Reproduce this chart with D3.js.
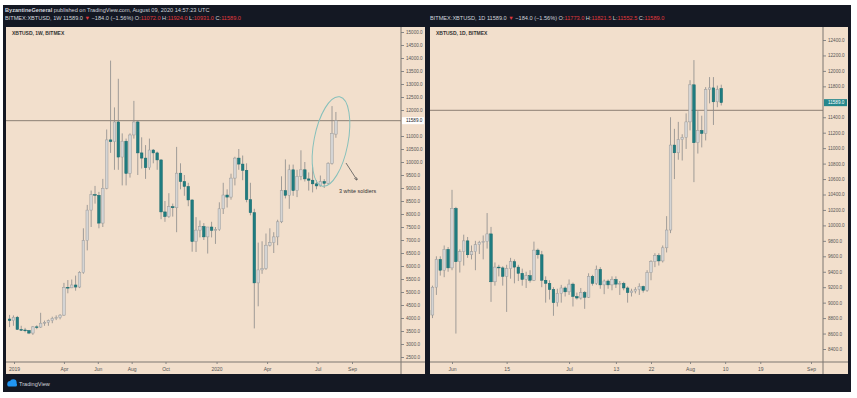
<!DOCTYPE html>
<html>
  <head>
    <script src="https://d3js.org/d3.v7.min.js"></script>
    <style>
      body { margin: 0; background: #fff; }
      text { font-family: "Liberation Sans", Arial, sans-serif; }
    </style>
  </head>
  <body>
    <script>

    // weekly candles, one per week starting Mon 2018-12-24
    var weekStart = Date.UTC(2018, 11, 24);
    var weekOpen = [3960,3900,4030,3560,3540,3520,3420,3660,3650,3800,3830,3900,3990,4010,4110,5180,5160,5270,5190,5750,
      6980,8150,8750,8720,7650,8990,10850,10780,11540,10190,10800,9560,11040,11540,10350,10150,9780,10460,10350,10080,
      8080,7900,8280,8240,9570,9250,9060,8540,6940,7380,7520,7120,7500,7370,7400,8200,8730,8650,9380,10150,
      9920,9680,8550,8050,5350,5850,5900,6800,6900,7120,7700,8900,8720,9700,8900,9450,9700,9350,9300,9160,
      9080,9250,9180,9950,11072];
    var weekHigh = [4120,4100,4080,3700,3620,3540,3690,3720,4200,3900,3940,4050,4100,4150,5350,5460,5480,5630,5800,7450,
      8350,8900,9080,8850,9350,11250,13900,12100,13200,11100,10900,11100,12350,11600,10950,10650,10900,10500,10400,10100,
      8500,8800,8400,10580,9950,9500,9200,8560,7880,7750,7650,7500,7700,7500,8450,9200,8950,9550,10200,10500,
      10250,9950,9200,8200,6900,6950,7250,7450,7300,7780,9450,10100,9900,9900,9700,10450,10000,9600,9800,9300,
      9480,9340,9990,12150,11924];
    var weekLow = [3650,3700,3550,3500,3450,3380,3350,3570,3620,3700,3700,3800,3920,3950,4080,4950,5150,5050,5150,5700,
      6600,7500,8400,7450,7500,8950,10350,9700,9700,9100,9100,9400,10900,9500,9750,9350,9700,9950,9700,7800,
      7700,7850,7900,7300,8950,8700,8300,6550,6540,7100,7000,6480,7100,6850,7350,8000,8250,8550,9100,9700,
      9300,8450,7950,3600,4450,5700,5850,6750,6500,6800,7650,8600,8200,8700,8650,9300,9250,8900,8830,8950,
      9050,9000,9140,9900,10931];
    var weekClose = [3900,4030,3560,3540,3520,3420,3660,3650,3800,3830,3900,3990,4010,4110,5180,5160,5270,5190,5750,6980,
      8150,8750,8720,7650,8990,10850,10780,11540,10190,10800,9560,11040,11540,10350,10150,9780,10460,10350,10080,8080,
      7900,8280,8240,9570,9250,9060,8540,6940,7380,7520,7120,7500,7370,7400,8200,8730,8650,9380,10150,9920,
      9680,8550,8050,5350,5850,5900,6800,6900,7120,7700,8900,8720,9700,8900,9450,9700,9350,9300,9160,9080,
      9250,9180,9950,11100,11589];

    // daily candles, one per day starting 2020-05-26
    var dayStart = Date.UTC(2020, 4, 26);
    var dayOpen = [8900,8840,9200,9560,9420,9690,9450,10220,9530,9660,9800,9620,9660,9750,9780,9790,9890,9270,9460,9450,
      9340,9440,9530,9460,9380,9300,9350,9290,9680,9620,9290,9250,9170,9000,9120,9190,9140,9240,9080,9060,
      9130,9070,9340,9250,9430,9230,9280,9230,9300,9240,9250,9190,9130,9150,9170,9210,9160,9390,9530,9610,
      9540,9710,9940,11040,10940,11110,11140,11340,11820,11070,11230,11190,11760,11780,11600,11773];
    var dayHigh = [9000,9220,9600,9600,9740,9720,10460,10240,9690,9880,9850,9740,9800,9800,9870,10160,9980,9520,9490,9470,
      9490,9580,9560,9490,9440,9400,9420,9790,9700,9670,9340,9290,9200,9180,9230,9210,9300,9260,9130,9190,
      9150,9380,9360,9480,9460,9300,9300,9340,9340,9280,9270,9210,9180,9200,9250,9220,9420,9550,9640,9640,
      9740,10120,11400,11250,11340,11180,11450,11880,12140,11480,11420,11790,11920,11920,11810,11821.5];
    var dayLow = [8700,8800,9100,9350,9330,9400,9420,8600,9390,9480,9580,9560,9420,9630,9560,9700,9010,9220,9340,9220,
      8880,9310,9250,9280,9220,9190,9260,9280,9570,9200,9000,9040,8830,8950,9000,9080,9100,8950,9040,9040,
      8920,9060,9220,9230,9180,9110,9180,9160,9190,9100,9160,9000,9080,9120,9100,9130,9140,9290,9460,9480,
      9520,9650,9900,10600,10850,10840,10990,11230,10560,10930,11010,11100,11580,11300,11530,11552.5];
    var dayClose = [8840,9200,9560,9420,9690,9450,10220,9530,9660,9800,9620,9660,9750,9780,9790,9890,9270,9460,9450,9340,
      9440,9530,9460,9380,9300,9350,9290,9680,9620,9290,9250,9170,9000,9120,9190,9140,9240,9080,9060,9130,
      9070,9340,9250,9430,9230,9280,9230,9300,9240,9250,9190,9130,9150,9170,9210,9160,9390,9530,9610,9540,
      9710,9940,11040,10940,11110,11140,11340,11820,11070,11230,11190,11760,11780,11600,11760,11589];

    // axis ticks
    var leftPriceTicks = d3.range(2500, 15001, 500).filter(function(v) { return v !== 11500; });
    var rightPriceTicks = d3.range(8400, 12401, 200).filter(function(v) { return v !== 11600; });
    var leftDateTicks = [[2019,0,1,"2019"],[2019,3,1,"Apr"],[2019,5,1,"Jun"],[2019,7,1,"Aug"],[2019,9,1,"Oct"],
      [2020,0,1,"2020"],[2020,3,1,"Apr"],[2020,6,1,"Jul"],[2020,8,1,"Sep"]];
    var rightDateTicks = [[2020,5,1,"Jun"],[2020,5,15,"15"],[2020,6,1,"Jul"],[2020,6,13,"13"],[2020,6,22,"22"],
      [2020,7,1,"Aug"],[2020,7,10,"10"],[2020,7,19,"19"],[2020,8,1,"Sep"]];

    var lastClose = 11589;
    var rightLevel = 11490; // drawn horizontal line on the daily chart

    var W = 857, H = 398;
    var cream = "#f2dfcc";
    var upFill = "#d4d4d4", upStroke = "#9b9b9b";
    var downFill = "#1f7c80", downStroke = "#186a6e";
    var wickColor = "#8a8a8a";
    var red = "#e0393e";

    var svg = d3.select("body").append("svg")
      .attr("width", W)
      .attr("height", H);

    // dark frame
    svg.append("rect").attr("x", 3).attr("y", 5).attr("width", 848).attr("height", 387).attr("fill", "#141823");

    // build rows
    function rows(start, step, o, h, l, c) {
      return o.map(function(v, i) {
        return { date: new Date(start + i * step * 864e5), o: v, h: h[i], l: l[i], c: c[i] };
      });
    }
    var weekly = rows(weekStart, 7, weekOpen, weekHigh, weekLow, weekClose);
    var daily = rows(dayStart, 1, dayOpen, dayHigh, dayLow, dayClose);

    // panel geometry
    var panels = [
      { id: "L", x0: 6, x1: 425, axisX: 401, data: weekly, label: "XBTUSD, 1W, BITMEX",
        x: d3.scaleUtc().domain([Date.UTC(2019,0,1), Date.UTC(2020,8,1)]).range([14, 352]),
        y: d3.scaleLinear().domain([2500, 15000]).range([357, 32]),
        priceTicks: leftPriceTicks, dateTicks: leftDateTicks,
        level: lastClose, boxFill: "#ffffff", boxText: "#222" },
      { id: "R", x0: 430, x1: 848, axisX: 823, data: daily, label: "XBTUSD, 1D, BITMEX",
        x: d3.scaleUtc().domain([Date.UTC(2020,5,1), Date.UTC(2020,8,1)]).range([452, 811]),
        y: d3.scaleLinear().domain([8400, 12400]).range([349, 40]),
        priceTicks: rightPriceTicks, dateTicks: rightDateTicks,
        level: rightLevel, boxFill: "#26878c", boxText: "#ffffff" }
    ];
    var panelTop = 27, axisY = 362, panelBottom = 374;

    panels.forEach(function(p) {
      var g = svg.append("g");
      g.append("rect").attr("x", p.x0).attr("y", panelTop).attr("width", p.x1 - p.x0).attr("height", panelBottom - panelTop)
        .attr("fill", cream);

      svg.append("clipPath").attr("id", "clip" + p.id)
        .append("rect").attr("x", p.x0).attr("y", panelTop).attr("width", p.axisX - p.x0).attr("height", axisY - panelTop);

      var plot = g.append("g").attr("clip-path", "url(#clip" + p.id + ")");

      // horizontal level line
      plot.append("line")
        .attr("x1", p.x0).attr("x2", p.axisX)
        .attr("y1", p.y(p.level)).attr("y2", p.y(p.level))
        .attr("stroke", "#8c7f74").attr("stroke-width", 1);

      // wicks
      plot.selectAll("line.wick").data(p.data).enter().append("line")
        .attr("class", "wick")
        .attr("x1", function(d) { return p.x(d.date); })
        .attr("x2", function(d) { return p.x(d.date); })
        .attr("y1", function(d) { return p.y(d.h); })
        .attr("y2", function(d) { return p.y(d.l); })
        .attr("stroke", wickColor).attr("stroke-width", 0.8);

      // bodies
      var bw = 2.6;
      plot.selectAll("rect.body").data(p.data).enter().append("rect")
        .attr("class", "body")
        .attr("x", function(d) { return p.x(d.date) - bw / 2; })
        .attr("y", function(d) { return p.y(Math.max(d.o, d.c)); })
        .attr("width", bw)
        .attr("height", function(d) { return Math.max(0.8, Math.abs(p.y(d.o) - p.y(d.c))); })
        .attr("fill", function(d) { return d.c >= d.o ? upFill : downFill; })
        .attr("stroke", function(d) { return d.c >= d.o ? upStroke : downStroke; })
        .attr("stroke-width", 0.5);

      // price axis
      var yAxis = d3.axisRight(p.y).tickValues(p.priceTicks).tickFormat(d3.format(".1f"))
        .tickSize(3).tickPadding(2);
      var ya = g.append("g").attr("transform", "translate(" + p.axisX + ",0)").call(yAxis);
      ya.select(".domain").remove();
      ya.selectAll("line").attr("stroke", "#888");
      ya.selectAll("text").attr("font-size", 4.6).attr("fill", "#555")
        .style("font-family", "'Liberation Sans', Arial, sans-serif");

      // date axis
      var xAxis = d3.axisBottom(p.x)
        .tickValues(p.dateTicks.map(function(t) { return new Date(Date.UTC(t[0], t[1], t[2])); }))
        .tickFormat(function(d, i) { return p.dateTicks[i][3]; })
        .tickSize(2).tickPadding(3);
      var xa = g.append("g").attr("transform", "translate(0," + axisY + ")").call(xAxis);
      xa.select(".domain").remove();
      xa.selectAll("line").attr("stroke", "#888");
      xa.selectAll("text").attr("font-size", 5).attr("fill", "#555")
        .style("font-family", "'Liberation Sans', Arial, sans-serif");

      // axis lines
      g.append("line").attr("x1", p.axisX).attr("x2", p.axisX).attr("y1", panelTop).attr("y2", panelBottom)
        .attr("stroke", "#7d7670").attr("stroke-width", 1);
      g.append("line").attr("x1", p.x0).attr("x2", p.x1).attr("y1", axisY).attr("y2", axisY)
        .attr("stroke", "#7d7670").attr("stroke-width", 1);

      // last price label on the axis
      var ly = p.y(lastClose);
      g.append("rect").attr("x", p.axisX + 1).attr("y", ly - 3.5).attr("width", p.x1 - p.axisX - 2).attr("height", 7)
        .attr("fill", p.boxFill);
      g.append("text").attr("x", p.axisX + 5).attr("y", ly + 1.7)
        .attr("font-size", 4.6).attr("fill", p.boxText).text("11589.0");

      // symbol label
      g.append("text").attr("x", p.x0 + 6).attr("y", 35)
        .attr("font-size", 5).attr("font-weight", "bold").attr("fill", "#333")
        .text(p.label);
    });

    // header text
    var hdr = svg.append("g").attr("fill", "#d1d4dc").attr("font-size", 5.6);
    var l1 = hdr.append("text").attr("x", 5).attr("y", 11.5);
    l1.append("tspan").attr("font-weight", "bold").text("ByzantineGeneral");
    l1.append("tspan").text(" published on TradingView.com, August 09, 2020 14:57:23 UTC");

    function ohlcLine(x, tf, o, h, l, c) {
      var t = hdr.append("text").attr("x", x).attr("y", 20);
      t.append("tspan").text("BITMEX:XBTUSD, " + tf + "  11589.0 ");
      t.append("tspan").attr("fill", red).text("\u25BC");
      t.append("tspan").text(" \u2212184.0 (\u22121.56%)  O:");
      t.append("tspan").attr("fill", red).text(o);
      t.append("tspan").text(" H:");
      t.append("tspan").attr("fill", red).text(h);
      t.append("tspan").text(" L:");
      t.append("tspan").attr("fill", red).text(l);
      t.append("tspan").text(" C:");
      t.append("tspan").attr("fill", red).text(c);
    }
    ohlcLine(5, "1W", "11072.0", "11924.0", "10931.0", "11589.0");
    ohlcLine(430, "1D", "11773.0", "11821.5", "11552.5", "11589.0");

    // "3 white soldiers" annotation
    var ann = svg.append("g");
    ann.append("ellipse").attr("cx", 331).attr("cy", 141.5).attr("rx", 17).attr("ry", 45.5)
      .attr("transform", "rotate(11,331,141.5)")
      .attr("fill", "none").attr("stroke", "#86c0bb").attr("stroke-width", 1);
    svg.append("defs").append("marker").attr("id", "arr")
      .attr("viewBox", "0 0 10 10").attr("refX", 9).attr("refY", 5)
      .attr("markerWidth", 4).attr("markerHeight", 4).attr("orient", "auto")
      .append("path").attr("d", "M0,0L10,5L0,10").attr("fill", "none").attr("stroke", "#555").attr("stroke-width", 2);
    ann.append("line").attr("x1", 346).attr("y1", 163).attr("x2", 357).attr("y2", 180)
      .attr("stroke", "#555").attr("stroke-width", 0.8).attr("marker-end", "url(#arr)");
    ann.append("text").attr("x", 339).attr("y", 193).attr("font-size", 5.4).attr("fill", "#333")
      .text("3 white soldiers");

    // TradingView footer
    var logo = svg.append("g").attr("fill", "#2196f3");
    logo.append("circle").attr("cx", 10).attr("cy", 383.5).attr("r", 2.6);
    logo.append("circle").attr("cx", 13.3).attr("cy", 382.5).attr("r", 3.3);
    logo.append("rect").attr("x", 7.4).attr("y", 383).attr("width", 9.6).attr("height", 3.4).attr("rx", 1.5);
    svg.append("text").attr("x", 19).attr("y", 386).attr("font-size", 5.6).attr("fill", "#d1d4dc")
      .text("TradingView");

    </script>
  </body>
</html>
